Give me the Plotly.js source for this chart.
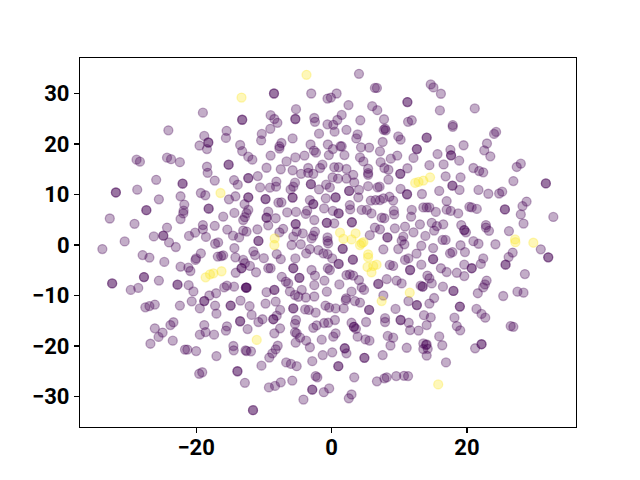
<!DOCTYPE html>
<html>
<head>
<meta charset="utf-8">
<script src="https://cdn.plot.ly/plotly-3.0.1.min.js"></script>
<style>html,body{margin:0;padding:0;background:#fff}</style>
</head>
<body>
<div id="chart" style="width:640px;height:480px"></div>
<script>
const purpleX = [
-19.0,-13.2,-13.2,-24.1,-15.5,-15.6,-18.8,-18.2,-18.2,-19.5,-18.4,-13.5,-13.2,-28.8,-28.3,-24.3,-23.7,-22.4,-18.4,-18.3,-15.2,-15.2,-25.9,
4.05,6.4,6.7,-8.5,-8.5,-3.0,0.75,-0.6,-0.1,11.2,11.2,2.5,6.0,6.75,-5.25,-9.0,-8.45,-8.0,-5.35,-5.35,-2.55,-2.45,1.5,0.85,4.25,7.75,11.3,-0.6,0.25,-9.05,-10.3,-10.4,2.2,-1.85,0.45,7.7,8.0,7.9,3.85,3.65,9.85,10.2,-5.75,7.55,-7.4,-7.7,-7.7,-3.1,-0.55,-2.6,-2.3,0.2,1.5,1.3,4.35,5.55,7.15,-9.0,-0.4,1.9,-4.0,-5.35,-6.65,4.2,4.7,8.75,9.7,-12.3,-11.7,-9.6,-7.5,-5.75,-4.5,-3.45,-3.45,-2.7,-1.35,-1.7,0.4,1.05,2.2,3.2,5.4,5.4,5.4,7.25,7.8,8.4,10.15,10.15,11.2,-12.3,-12.3,-10.9,0.15,0.95,2.2,8.4,
14.65,15.05,16.15,16.0,21.15,11.85,17.9,17.9,24.3,24.0,14.05,14.05,22.95,19.5,22.55,23.45,12.6,12.6,17.55,17.65,17.65,15.65,12.1,18.85,16.55,14.45,20.95,21.8,22.4,27.95,27.35,16.85,19.05,
-17.25,-14.4,-13.85,-22.0,-22.0,-31.85,-31.85,-28.7,-19.3,-18.65,-22.3,-14.2,-15.15,-25.5,-21.75,-12.85,-21.85,-21.9,-22.3,-27.35,-27.35,-18.15,-18.15,-14.35,-16.0,-13.05,-12.55,-12.8,-32.75,-29.1,-24.3,-19,-19,-17.25,-15.4,-13.05,-20.15,-21.05,-24.85,-24.85,-26.25,-18.55,-14.55,-13.65,-30.55,-24.0,-23.0,-16.75,-17.2,-14.35,-33.85,-27.9,-26.9,-24.7,-19.3,-20.0,-20.1,-16.0,-16.3,-16.8,-14.2,-13.05,-22.3,-21.15,-20.85,-13.3,-13.3,-14.15,-32.4,-32.4,-27.7,-27.7,-25.5,-22.75,-22.75,-21.1,-28.55,-29.65,-20.4,-15.45,-15.85,-14.4,-12.65,-12.65,-17.05,-18.05,
-10.55,-9.1,-8.2,-12.3,-12.3,-9.75,-9.75,-8.15,-5.4,-5.65,-6.05,-3.05,-3.05,-5.75,-5.75,-1.85,-0.8,-0.25,0.6,0.6,-0.85,-3.2,-2.7,-2.7,2.6,2.6,4.05,3.95,3.35,5.4,7.1,6.8,10.2,11.15,11.15,5.8,6.5,7.15,7.65,8.55,9.1,-7.4,-7.85,2.7,2.75,-1.1,0.2,1.05,1.05,-6.55,-5.25,-3.6,-3.8,4.45,5.2,5.9,-9.35,-8.25,-9.6,-9.6,9.2,9.25,7.4,7.8,-2.55,-5.3,-5.3,-0.7,-0.7,0.4,3.0,3.0,-12.3,-9.35,-10.95,-7.15,-7.7,-5.15,-4.25,-12.55,-2.45,-2.95,-2.7,-5.65,-5.9,-4.55,-10.8,-10.8,-0.6,-0.6,-0.5,5.65,6.4,7.15,9.35,10.85,8.25,8.25,10.6,10.35,7.65,9.85,10.75,
1.65,1.65,-3.75,-3.2,-1.95,-1.2,-0.6,0.1,1.05,1.05,3.15,3.15,-8.1,-7.5,-11.55,-11.3,-10.0,-5.35,-5.65,-5.65,-12.8,-12.05,-11.15,-9.35,-9,-7.35,-6.75,-6.4,-4.75,-4.75,-2.95,-2.45,-0.55,-0.25,-1.05,-2.55,2.2,2.7,3.2,4.05,1.15,2.95,4.45,4.8,8.15,6.9,6.9,9.6,10.35,9.1,8.6,11.35,10.85,-12.55,-12.55,-8.45,-8.45,-9.6,-6.15,-5.4,-4.9,-4.4,-3.8,-2.55,-0.7,2.15,7.65,
31.65,31.65,26.85,17.85,17.85,18.9,15.9,13.35,21.7,23.15,24.75,25.2,17.0,28.8,28.2,27.95,25.6,25.6,13.55,14.05,14.45,15.4,17.0,17.6,18.7,20.35,20.7,21.45,32.75,28.35,11.85,11.75,13.05,14.8,15.55,16.5,15.15,19.15,19.6,19.6,19.85,22.8,22.8,23.25,26.2,12.1,13.85,16.4,16.85,20.95,21.7,24.2,13.25,15.0,19.05,19.7,30.9,32.0,32.0,26.75,26.15,25.7,25.7,22.4,22.05,12.55,17.5,17.85,15.0,15.0,13.25,19.6,20.7,20.7,16.15,17.0,18.5,19.6,11.6,11.6,28.55,14.15,14.45,14.8,13.15,13.45,13.45,16.45,18.0,18.0,22.9,22.65,22.4,21.6,25.35,27.45,28.35,15.15,
-27.5,-26.9,-26.1,-22.4,-20.65,-18.8,-18.8,-17.2,-19.45,-17,-14.9,-14.9,-13.45,-13.5,-13.5,-23.35,-23.8,-26.1,-24.95,-25.55,-26.75,-23.45,-18.8,-15.45,-15.6,-19.45,-18.6,-17.35,-21.65,-21.3,-20,-14.5,-14.45,-12.7,-17,-19.55,-19.1,-13.9,-13.9,-12.8,
-11.6,-11.6,-12.1,-11.8,-9.75,-8.25,-5.65,-5.65,-7.6,-8.1,-8.6,-8.6,-10.2,-10.8,-7.6,-8.45,-12.4,-5.4,-5.25,-5.4,-5.15,-4.65,-5.3,-3.75,-3.2,-7.95,-8.25,-8.75,-9.2,-12.55,-11.9,-10.35,-6.7,-6,-5.15,-2.85,-1.3,0.1,1.95,1.95,2.2,4.85,4.85,1.0,1.0,7.55,11.1,-1.45,0.25,0.6,3.85,5.0,5.6,8.3,9.1,8.7,-2.7,-2.2,-1.1,-0.5,0.5,2.95,3.3,3.3,3.6,5.1,7.9,7.9,10.2,10.2,11.4,11.6,9.45,-3.9,-3.35,-2.35,-0.9,-0.35,0.6,1.8,3.45,4.2,5.55,5.55,2.1,11.35,-9.25,-8.35,-7.5,-5.8,-2.35,-2.1,3.35,-2.85,-2.85,-0.35,-1.15,-4.15,2.95,2.55,6.7,7.8,8.15,9.55,10.7,11.3,
12.6,12.6,14.45,18.95,18.95,21.4,22.15,22.7,13.65,14.65,14.05,12.85,18.15,18.5,19,26.45,26.85,15.9,16.35,21.2,22.15,22.15,13.55,14.05,13.95,13.55,14.2,14.05,16.9
];
const purpleY = [
26.2,24.8,24.8,22.7,22.6,21.2,21.6,20.3,20.3,19.7,19.0,19.8,18.6,16.9,16.5,17.3,17.0,16.4,15.5,14.3,15.9,15.9,12.9,
33.9,31.1,31.1,30.0,30.0,30.0,30.0,29.0,29.2,28.3,28.3,27.7,27.5,26.7,26.9,25.7,24.95,24.2,24.95,24.95,25.15,24.4,25.75,24.75,24.7,24.9,24.4,23.9,23.8,23.0,22.0,20.7,22.8,22.05,22.45,22.8,22.7,23.05,21.9,21.1,21.5,20.85,21.1,20.4,20.2,19.55,19.1,19.9,19.9,18.7,18.3,19.0,19.55,19.55,19.35,19.3,18.55,17.7,17.8,17.8,17.7,17.35,16.55,17.35,16.55,17.1,17.7,17.5,16.9,15.3,15.0,14.8,14.1,15.25,14.3,14.1,15.9,15.25,15.4,15.4,15.05,13.9,15.1,13.9,14.25,16.4,15.25,14.9,14.1,14.1,15.2,13.25,13.25,13.65,13.4,13.15,13.15,12.95,
31.8,31.2,29.95,26.65,27.05,24.7,23.75,23.4,22.4,22.0,21.25,21.25,20.1,19.75,18.75,17.55,19.0,19.0,18.85,17.75,17.75,18.0,17.25,16.7,15.95,15.8,15.25,14.65,14.4,16.1,15.45,13.6,13.4,
12.75,12.85,11.95,12.15,12.15,10.4,10.4,10.95,10.3,9.85,9.65,9.65,9.05,9.05,8.0,8.1,6.8,6.25,5.15,6.9,6.9,7.2,7.2,6.35,5.6,4.95,6.3,5.5,5.25,4.2,3.45,3.95,3.1,3.8,3.05,2.85,2.45,1.8,1.85,1.85,1.7,1.6,1.85,1.5,0.7,0.5,-0.4,0.5,0.25,-0.6,-0.8,-2.0,-2.5,-3.35,-1.65,-2.65,-2.95,-2.05,-2.2,-2.3,-2.45,-2.95,-4.3,-4.5,-5.15,-4.6,-4.6,-5.5,-7.6,-7.6,-6.35,-6.35,-7.05,-7.85,-7.85,-7.95,-8.5,-8.9,-9.2,-8.05,-8.4,-8.25,-8.45,-8.45,-9.55,-10.0,
11.4,11.35,11.55,9.45,9.45,9.1,9.1,12.55,12.35,11.55,11.0,12.05,12.05,9.4,9.4,11.0,11.95,11.4,9.45,9.45,9.25,8.9,8.1,8.1,10.7,10.7,10.9,9.45,12.4,11.65,11.55,11.4,11.1,10.05,10.05,8.8,8.9,8.9,9.25,9.55,8.8,8.45,8.4,7.9,7.05,7.25,6.75,6.25,6.25,6.45,6.55,6.8,6.15,6.95,6.95,6.25,6.6,5.3,5.4,5.4,6.8,6.05,5.4,5.3,4.95,4.15,4.15,4.4,4.4,4.3,4.5,4.5,6.95,3.9,3.1,3.2,2.5,2.65,2.3,2.65,2.65,1.3,1.85,1.65,0,0.15,0.8,0.8,1.5,0.8,0.3,1.95,3.45,3.1,3.3,3.65,1.5,1.5,1.65,0.85,-0.85,-0.8,0.15,
-0.75,-0.75,-1.65,-0.8,-1.0,-1.65,-1.8,-2.65,-3.75,-3.75,-2.9,-2.9,-1.8,-2.8,-1.25,-2.0,-2.6,-2.65,-4.6,-4.6,-3.6,-4.15,-5.4,-4.6,-4.6,-6.3,-7.25,-7.6,-6.5,-6.5,-4.95,-6.05,-4.6,-4.95,-7.05,-7.95,-5.95,-5.8,-6.05,-6.95,-7.8,-9.25,-8.4,-8.9,-6.75,-7.7,-7.7,-7.05,-7.6,-4.15,-3.95,-2.65,-2.95,-8.45,-8.45,-8.9,-8.9,-9.35,-9.2,-9.9,-10.25,-8.9,-10.4,-10.2,-9.25,-10.55,-10.0,
12.2,12.2,12.65,11.75,11.75,10.9,10.7,10.1,10.9,10.15,10.2,10.55,8.7,8.6,7.7,6.05,7.05,7.05,7.45,7.45,7.45,6.55,7.0,6.75,6.25,7.55,7.45,7.15,5.55,4.25,6.95,5.6,4.1,4.4,3.75,4.1,2.85,3.95,2.95,2.95,2.5,3.95,3.45,2.8,2.75,2.5,1.8,1.0,1.0,0.75,0.25,0.15,-0.15,-0.6,-0.05,-1.4,-0.85,-2.45,-2.45,-1.5,-2.4,-3.9,-3.9,-2.65,-3.75,-1.7,-1.65,-1.4,-2.8,-2.8,-3.9,-3.9,-4.6,-4.6,-4.6,-5.35,-5.5,-6.15,-4.95,-4.95,-5.75,-6.05,-6.6,-7.6,-8.05,-8.25,-8.25,-8.25,-9.1,-9.1,-7.05,-7.8,-8.4,-9.55,-10.1,-9.25,-9.45,-10.5,
-12.35,-12.1,-11.8,-12.0,-11.15,-11.1,-11.1,-12.0,-12.55,-13.6,-12.0,-12.0,-11.0,-15.1,-15.1,-15.3,-15.85,-16.5,-17.35,-18.2,-19.55,-18.95,-15.85,-16.1,-16.95,-17.75,-17.25,-17.75,-20.7,-20.7,-21,-20.0,-20.85,-20.85,-22,-25.5,-25.2,-25.0,-25.0,-27.3,
-32.7,-32.7,-12.1,-13.85,-11.6,-11.2,-12.55,-12.55,-12.85,-14,-14.7,-14.7,-14.7,-15.25,-16.5,-17.5,-16.65,-15.6,-14.85,-17.3,-17.5,-18.35,-19.35,-18.95,-20.25,-19.95,-20.65,-21.45,-22.3,-21,-21.05,-23.9,-23.25,-23.55,-24.0,-23,-21.8,-21.25,-20.45,-20.45,-21.45,-22.35,-22.35,-24.0,-24.0,-21.8,-20.35,-18.75,-18.15,-17.5,-18.15,-18.7,-18.95,-18.0,-18.35,-19.9,-16.4,-15.9,-15.45,-15.4,-14.85,-15.4,-16.2,-16.2,-16.6,-15.25,-14.5,-15.25,-14.85,-14.85,-15.4,-16.85,-12.65,-12.75,-12.85,-13.4,-12.0,-12.4,-12.55,-12.55,-11.1,-11.4,-12.85,-12.85,-10.9,-11.1,-28.2,-27.9,-27.2,-26.85,-25.95,-26.2,-26.2,-28.65,-28.65,-28.4,-29.15,-30.6,-29.6,-30.35,-27,-26.4,-26.2,-25.95,-25.9,-25.95,
-11.9,-11.9,-11.6,-12.2,-12.2,-12.65,-13.65,-14.4,-13.9,-14.35,-15.85,-16.95,-14.4,-16.05,-16.9,-16.05,-16.2,-18.1,-19.85,-20.45,-19.65,-19.65,-19.5,-19.7,-19.8,-20.6,-20.55,-21.9,-23.25
];
const yellowX = [-13.3,-3.7,14.55,13.55,12.85,12.35,-16.4,-16.25,-17.45,-17.95,-18.6,-8.4,-8.45,1.25,1.75,3.55,2.95,4.45,4.2,4.7,5.4,5.4,6.65,6.15,5.3,5.9,11.55,7.4,27.1,27.15,29.8,-11.05,15.75];
const yellowY = [29.2,33.7,13.4,12.75,12.5,12.3,10.3,-5.2,-5.6,-5.8,-6.4,1.3,0.0,2.45,1.2,2.3,1.1,0.35,0.0,0.55,-1.85,-2.45,-3.9,-4.15,-4.35,-5.4,-9.45,-11.1,1.1,0.55,0.45,-18.8,-27.6];
const xTicks = [-20,0,20];
const yTicks = [-30,-20,-10,0,10,20,30];

const n = Math.min(purpleX.length, purpleY.length);
const mk = (c) => ({size: 9, color: c, line: {color: c, width: 1.3}});
const tickFont = {family: 'Roboto, sans-serif', size: 22, color: '#000', weight: 700};
const axis = {showgrid: false, zeroline: false, showline: true, mirror: true, linecolor: '#000', linewidth: 1.1,
  ticks: 'outside', ticklen: 5, tickwidth: 1.1, tickcolor: '#000', tickfont: tickFont, tickmode: 'array'};
Plotly.newPlot('chart', [
  {type: 'scatter', mode: 'markers', x: purpleX.slice(0, n), y: purpleY.slice(0, n), marker: mk('rgba(68,1,84,0.32)'), hoverinfo: 'skip'},
  {type: 'scatter', mode: 'markers', x: yellowX, y: yellowY, marker: mk('rgba(253,231,37,0.32)'), hoverinfo: 'skip'}
], {
  width: 640, height: 480, showlegend: false,
  paper_bgcolor: '#fff', plot_bgcolor: '#fff',
  margin: {l: 80, r: 64, t: 58, b: 53, pad: 0},
  xaxis: Object.assign({}, axis, {range: [-37.15, 36.1], ticklabelstandoff: -5, tickvals: xTicks, ticktext: xTicks.map(v => String(v).replace('-', '\u2212'))}),
  yaxis: Object.assign({}, axis, {range: [-36.04, 37.03], tickvals: yTicks, ticktext: yTicks.map(v => String(v).replace('-', '\u2212'))})
}, {displayModeBar: false, staticPlot: true});
</script>
</body>
</html>
